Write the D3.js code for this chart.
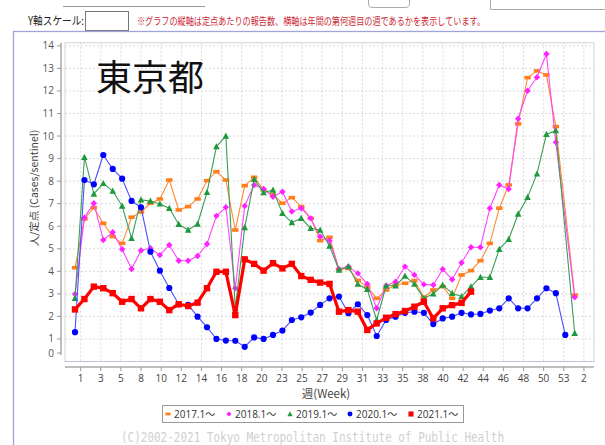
<!DOCTYPE html>
<html><head><meta charset="utf-8">
<script src="https://cdn.jsdelivr.net/npm/d3@7/dist/d3.min.js"></script>
<style>body{margin:0;background:#fff;} svg{display:block;}</style>
</head><body>
<svg id="c" width="605" height="445"></svg>
<script>
// ---------- data ----------
const tickLabels = ["1","3","5","8","10","12","14","16","18","20","23","25","27","29","31","33","35","38","40","42","44","46","48","50","53","2"];
const yTickValues = [0,1,2,3,4,5,6,7,8,9,10,11,12,13,14];
const seriesNames = ["2017.1～","2018.1～","2019.1～","2020.1～","2021.1～"];
const v2017 = [4.16,6.32,6.82,6.13,5.54,5.24,6.40,6.63,7.02,7.21,8.05,6.72,6.87,7.21,8.02,
  8.42,8.05,5.83,7.80,8.17,7.61,7.39,7.02,7.27,6.87,6.35,5.36,5.51,4.09,4.13,
  3.60,3.30,2.80,3.17,3.39,3.47,3.59,2.85,3.17,3.32,2.80,3.84,
  4.03,4.47,5.24,6.80,7.83,10.54,12.59,12.89,12.71,10.42,null,2.95];
const v2018 = [2.99,6.38,7.02,5.39,5.73,4.98,4.10,4.92,5.02,4.72,5.17,4.47,4.47,4.68,5.21,
  6.46,6.84,3.25,6.90,7.83,7.65,7.31,7.53,6.65,6.80,6.35,5.54,5.36,4.09,4.21,
  3.91,3.44,2.36,3.36,3.54,4.21,3.84,3.42,3.39,4.09,3.64,4.38,
  5.07,5.07,6.80,7.83,7.65,10.77,12.01,12.61,13.64,9.72,null,2.85];
const v2019 = [2.80,9.06,7.43,7.90,7.56,6.90,5.46,7.17,7.12,6.99,6.80,6.09,5.83,6.10,7.50,
  9.53,10.00,2.35,5.94,8.08,7.49,7.61,6.57,6.16,6.35,5.91,5.83,5.12,4.06,4.21,
  3.43,3.20,1.84,3.36,3.36,3.79,3.43,2.80,3.00,3.39,3.03,2.88,
  3.32,3.74,3.74,4.98,5.42,6.54,7.28,8.32,10.08,10.24,null,1.25];
const v2020 = [1.30,8.05,7.86,9.16,8.54,8.11,7.12,6.84,4.87,4.03,3.26,2.54,2.51,1.99,1.52,
  1.00,0.93,0.92,0.65,1.07,1.00,1.18,1.37,1.84,1.96,2.17,2.51,2.80,2.88,2.14,
  2.54,2.06,1.13,1.84,1.99,2.16,2.21,2.16,1.66,1.91,1.99,2.16,
  2.09,2.11,2.26,2.36,2.80,2.36,2.36,2.80,3.25,3.03,1.18,null];
const v2021 = [2.31,2.77,3.32,3.25,3.03,2.65,2.77,2.36,2.77,2.65,2.28,2.54,2.46,2.61,3.25,
  3.98,3.98,2.06,4.53,4.33,4.03,4.36,4.13,4.33,3.79,3.62,3.50,3.44,2.21,2.28,
  2.21,1.40,1.69,1.94,2.10,2.24,2.43,2.65,1.91,2.36,2.50,2.60,
  3.10,null,null,null,null,null,null,null,null,null,null,null];

// ---------- layout ----------
const svg = d3.select("#c");
const plot = {l:65, t:42.7, r:594, b:361.5};
const x = d3.scaleLinear().domain([0, 53]).range([75, 574.7]);
const y = d3.scaleLinear().domain([0, 14.14]).range([plot.b, plot.t]);
const tickStart = 0.6, tickStep = 2.135;
const tickPos = tickLabels.map((d,i)=> tickStart + i*tickStep);
const yAxisEnd = 355; // axis line and bottom label are clamped above the plot edge

// top page bits
svg.append("line").attr("x1",63).attr("x2",205).attr("y1",6.5).attr("y2",6.5).attr("stroke","#9a9a9a");
svg.append("path").attr("d","M368.5,0 V4 Q368.5,7.5 372,7.5 H405 Q409.5,7.5 409.5,4 V0").attr("fill","none").attr("stroke","#aaa");
svg.append("path").attr("d","M490.5,0 V9.5 H605").attr("fill","none").attr("stroke","#aaa");
svg.append("text").attr("x",28).attr("y",25).attr("font-size",11.5).attr("font-family","'Noto Sans CJK JP'")
  .attr("fill","#222").attr("textLength",56).attr("lengthAdjust","spacingAndGlyphs").text("Y軸スケール:");
svg.append("rect").attr("x",85.5).attr("y",11.5).attr("width",43).attr("height",19).attr("fill","#fff").attr("stroke","#767676");
svg.append("text").attr("x",137).attr("y",25).attr("font-size",10.5).attr("font-family","'Noto Sans CJK JP'")
  .attr("fill","#cc2a36").attr("textLength",348).attr("lengthAdjust","spacingAndGlyphs")
  .text("※グラフの縦軸は定点あたりの報告数、横軸は年間の第何週目の週であるかを表示しています。");

// chart frame
svg.append("rect").attr("x",13.5).attr("y",31.5).attr("width",600).attr("height",430)
  .attr("fill","#fff").attr("stroke","#a3a3dc").attr("stroke-width",1.3);

// plot area
svg.append("rect").attr("x",plot.l).attr("y",plot.t).attr("width",plot.r-plot.l).attr("height",plot.b-plot.t)
  .attr("fill","#fff").attr("stroke","#d4d4d4");
const grid = svg.append("g").attr("stroke","#dadada").attr("stroke-dasharray","2,2").attr("stroke-width",1);
yTickValues.filter(v=>v>0).forEach(v=>{
  grid.append("line").attr("x1",plot.l).attr("x2",plot.r).attr("y1",y(v)).attr("y2",y(v));
});
tickPos.forEach(t=>{
  grid.append("line").attr("x1",x(t)).attr("x2",x(t)).attr("y1",plot.t).attr("y2",plot.b);
});
svg.append("line").attr("x1",plot.l).attr("x2",plot.r).attr("y1",plot.b).attr("y2",plot.b)
  .attr("stroke","#b4b4e0").attr("stroke-dasharray","2,1");

// title
svg.append("text").attr("x",96).attr("y",91).attr("font-size",36).attr("font-family","'Noto Sans CJK JP'")
  .attr("fill","#111").text("東京都");

// y axis
const yAxis = svg.append("g");
yAxis.append("line").attr("x1",61).attr("x2",61).attr("y1",plot.t).attr("y2",yAxisEnd).attr("stroke","#aaa").attr("stroke-width",1.5);
yTickValues.forEach(v=>{
  const ty = Math.min(y(v), yAxisEnd - 2);
  yAxis.append("line").attr("x1",57).attr("x2",61).attr("y1",ty).attr("y2",ty).attr("stroke","#999");
  yAxis.append("text").attr("x",54).attr("y",ty).attr("dy","0.35em").attr("text-anchor","end")
    .attr("font-size",10).attr("font-family","'Open Sans',sans-serif").attr("fill","#555").text(v);
});
svg.append("text").attr("transform","translate(37.5,188) rotate(-90)").attr("text-anchor","middle")
  .attr("font-size",10.5).attr("font-family","'Noto Sans CJK JP'").attr("fill","#444").text("人/定点 (Cases/sentinel)");

// x axis
const xAxis = svg.append("g");
xAxis.append("line").attr("x1",plot.l).attr("x2",plot.r).attr("y1",367).attr("y2",367).attr("stroke","#aaa").attr("stroke-width",1.5);
tickPos.forEach((t,i)=>{
  xAxis.append("line").attr("x1",x(t)).attr("x2",x(t)).attr("y1",367).attr("y2",371).attr("stroke","#999");
  xAxis.append("text").attr("x",x(t)).attr("y",382).attr("text-anchor","middle")
    .attr("font-size",10).attr("font-family","'Open Sans',sans-serif").attr("fill","#444").text(tickLabels[i]);
});
svg.append("text").attr("x",326).attr("y",398).attr("text-anchor","middle").attr("font-size",11.5)
  .attr("font-family","'Noto Sans CJK JP'").attr("fill","#444").text("週(Week)");

// series
const seriesData = [v2017, v2018, v2019, v2020, v2021];
const lineColors = ["#ff8a33","#ff44ff","#3a9e56","#4d4dff","#ff0000"];
const markColors = ["#ff7f1f","#ff22ff","#1e9a3c","#0000ff","#ff0000"];
const lineWidths = [1.1,1.1,1.1,1.1,3.2];
const shapes = ["bar","diamond","triangle","circle","square"];

function marker(g, shape, cx, cy, color, s){
  s = s||1;
  if(shape==="bar") g.append("rect").attr("x",cx-3.2*s).attr("y",cy-1.8*s).attr("width",6.4*s).attr("height",3.6*s).attr("fill",color);
  else if(shape==="diamond") g.append("path").attr("d",`M${cx},${cy-3.2*s}L${cx+3.2*s},${cy}L${cx},${cy+3.2*s}L${cx-3.2*s},${cy}Z`).attr("fill",color);
  else if(shape==="triangle") g.append("path").attr("d",`M${cx},${cy-3.5*s}L${cx+3.3*s},${cy+2.7*s}L${cx-3.3*s},${cy+2.7*s}Z`).attr("fill",color);
  else if(shape==="circle") g.append("circle").attr("cx",cx).attr("cy",cy).attr("r",3.1*s).attr("fill",color);
  else g.append("rect").attr("x",cx-3.2*s).attr("y",cy-3.2*s).attr("width",6.4*s).attr("height",6.4*s).attr("fill",color);
}

seriesData.forEach((vals, si)=>{
  const pts = vals.map((v,i)=>({i, v})).filter(d=>d.v!==null);
  const g = svg.append("g");
  g.append("path").datum(pts)
    .attr("d", d3.line().x(d=>x(d.i)).y(d=>y(d.v)))
    .attr("fill","none").attr("stroke",lineColors[si]).attr("stroke-width",lineWidths[si])
    .attr("stroke-linejoin","round");
  pts.forEach(d=>marker(g, shapes[si], x(d.i), y(d.v), markColors[si]));
});

// legend
const lg = svg.append("g");
lg.append("rect").attr("x",162.5).attr("y",405.5).attr("width",301).attr("height",17).attr("fill","#fff").attr("stroke","#999");
const legX = [168, 229, 290, 350, 411];
seriesNames.forEach((n,i)=>{
  marker(lg, shapes[i], legX[i], 414, markColors[i], 0.8);
  lg.append("text").attr("x",legX[i]+6).attr("y",417.5).attr("font-size",10)
    .attr("font-family","'Open Sans','Noto Sans CJK JP',sans-serif").attr("fill","#333").text(n);
});

// copyright
svg.append("text").attr("x",121).attr("y",441.5).attr("font-size",13.5)
  .attr("font-family","'DejaVu Sans Mono',monospace").attr("fill","#cfcfcf")
  .attr("textLength",383).attr("lengthAdjust","spacingAndGlyphs")
  .text("(C)2002-2021 Tokyo Metropolitan Institute of Public Health");
</script>
</body></html>
